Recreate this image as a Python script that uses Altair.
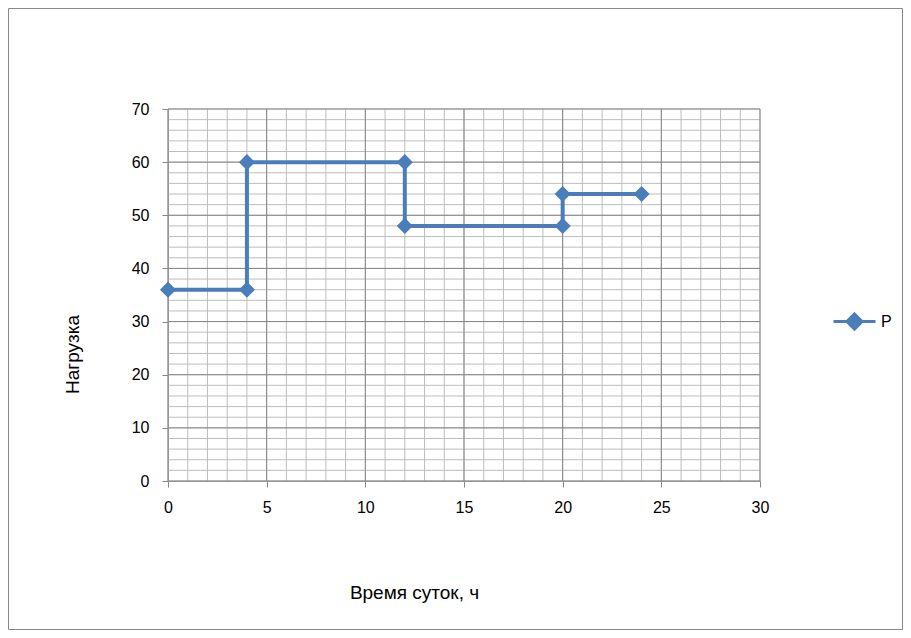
import altair as alt
import pandas as pd

hours = [0, 4, 4, 12, 12, 20, 20, 24]
load = [36, 36, 60, 60, 48, 48, 54, 54]
series = "P"

x_minor = list(range(0, 31, 1))
y_minor = list(range(0, 71, 2))
x_major = list(range(0, 31, 5))
y_major = list(range(0, 71, 10))

df = pd.DataFrame({"t": hours, "p": load, "s": [series] * len(hours), "o": list(range(len(hours)))})

FONT = "Liberation Sans"
BLUE = "#4a7ebb"
W, H = 592, 372

xs = alt.Scale(domain=[0, 30], nice=False)
ys = alt.Scale(domain=[0, 70], nice=False)

x_axis = alt.Axis(title="Время суток, ч", values=x_major, grid=False, domainColor="#878787",
                  tickColor="#878787", tickSize=6, labelPadding=12, labelFontSize=16,
                  labelFlush=False,
                  labelFont=FONT, labelColor="#000", titleFont=FONT, titleFontSize=19,
                  titleFontWeight="normal", titleColor="#000", titleX=246, titleY=111,
                  titleAlign="center", titleBaseline="middle")
y_axis = alt.Axis(title="Нагрузка", values=y_major, grid=False, domainColor="#878787",
                  tickColor="#878787", tickSize=6, labelPadding=13, labelFontSize=16,
                  labelFlush=False,
                  labelFont=FONT, labelColor="#000", titleFont=FONT, titleFontSize=19,
                  titleFontWeight="normal", titleColor="#000", titleX=-96, titleY=245,
                  titleAlign="center", titleBaseline="middle", titleAngle=-90)

gx_minor = alt.Chart(pd.DataFrame({"v": x_minor})).mark_rule(color="#bdbdbd", strokeWidth=1).encode(
    x=alt.X("v:Q", scale=xs, axis=x_axis))
gy_minor = alt.Chart(pd.DataFrame({"v": y_minor})).mark_rule(color="#bdbdbd", strokeWidth=1).encode(
    y=alt.Y("v:Q", scale=ys, axis=y_axis))
gx_major = alt.Chart(pd.DataFrame({"v": x_major})).mark_rule(color="#878787", strokeWidth=1).encode(
    x=alt.X("v:Q", scale=xs, axis=x_axis))
gy_major = alt.Chart(pd.DataFrame({"v": y_major})).mark_rule(color="#878787", strokeWidth=1).encode(
    y=alt.Y("v:Q", scale=ys, axis=y_axis))

frame = alt.Chart(pd.DataFrame({"v": [0]})).mark_rect(fill=None, stroke="#888888", strokeWidth=1).encode(
    x=alt.value(-159.5), x2=alt.value(W + 142.5), y=alt.value(-100.5), y2=alt.value(H + 148.5))

legend_path = "M-1,0L1,0M0,-0.36L0.36,0L0,0.36L-0.36,0Z"

line = alt.Chart(df).mark_line(strokeWidth=4, point=alt.OverlayMarkDef(shape="diamond", size=260, filled=True, opacity=1)).encode(
    x=alt.X("t:Q", scale=xs, axis=x_axis),
    y=alt.Y("p:Q", scale=ys, axis=y_axis),
    order="o:Q",
    color=alt.Color("s:N", scale=alt.Scale(range=[BLUE]),
                    legend=alt.Legend(title=None, orient="none", legendX=664, legendY=190,
                                      symbolType=legend_path, symbolSize=1764, symbolStrokeWidth=3,
                                      symbolFillColor=BLUE, symbolStrokeColor=BLUE,
                                      labelFont=FONT, labelFontSize=16, labelColor="#000",
                                      labelOffset=4)),
)

chart = alt.layer(frame, gx_minor, gy_minor, gx_major, gy_major, line).properties(
    width=W, height=H,
    padding={"left": 160, "top": 101, "right": 143, "bottom": 149},
    autosize=alt.AutoSizeParams(type="none"),
    background="white",
).configure_view(stroke=None)

chart.save("out.html", embed_options={"renderer": "svg", "actions": False})
